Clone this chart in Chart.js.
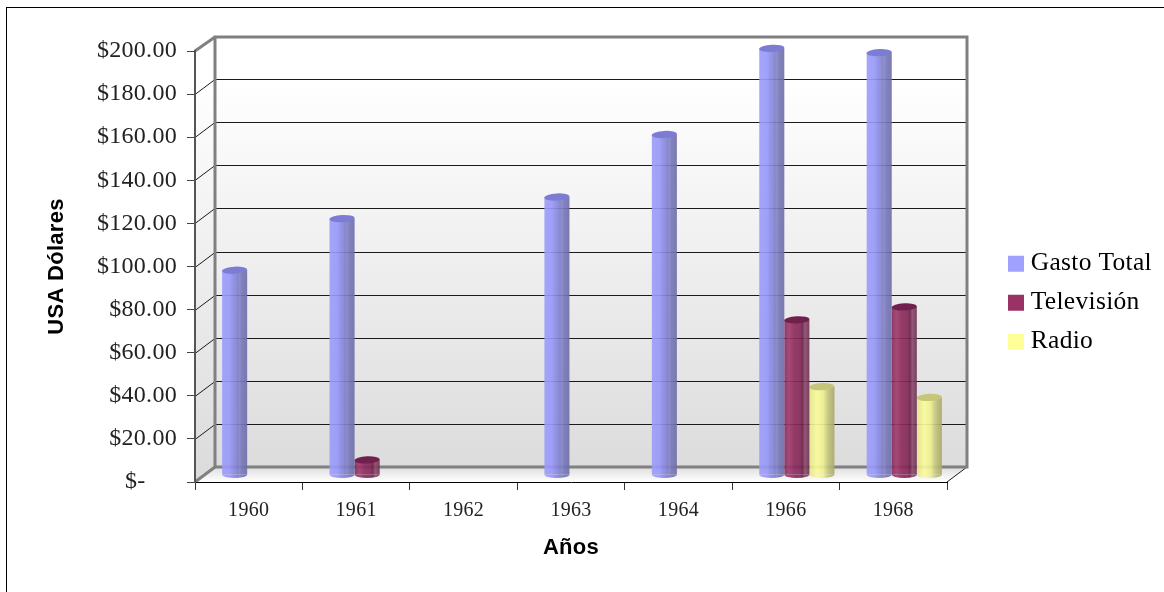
<!DOCTYPE html>
<html lang="es">
<head>
<meta charset="utf-8">
<title>Gasto en publicidad</title>
<style>
  html, body { margin: 0; padding: 0; background: #fff; overflow: hidden; }
  canvas { display: block; }
</style>
<script src="https://cdn.jsdelivr.net/npm/chart.js@4"></script>
</head>
<body>
<canvas id="chart" width="1164" height="592"></canvas>
<script>
// Advertising spend per year, in USD
const years = ['1960', '1961', '1962', '1963', '1964', '1966', '1968'];
const gastoTotal = [95, 119, null, 129, 158, 198, 196];
const television = [null, 7, null, null, null, 72, 78];
const radio = [null, null, null, null, null, 41, 36];
const seriesNames = ['Gasto Total', 'Televisión', 'Radio'];
const legendColors = ['#a0a0ff', '#993366', '#ffff99'];
const yTickLabels = ['$-', '$20.00', '$40.00', '$60.00', '$80.00', '$100.00',
  '$120.00', '$140.00', '$160.00', '$180.00', '$200.00'];

// Horizontal shading of each cylinder, left to right; slightly see-through
const cylinderStops = [
  [[0, '#9c9cf8e8'], [0.3, '#9898fae8'], [0.45, '#8a8ae6e8'], [0.55, '#8686d6e8'], [0.62, '#7c7cc6e8'],
   [0.7, '#8484cce8'], [0.78, '#7676b8e8'], [1, '#6e6eaae8']],
  [[0, '#86285ae8'], [0.18, '#a03a6ce8'], [0.4, '#8a2a5ce8'], [0.62, '#842858e8'], [0.72, '#6c1e46e8'],
   [0.82, '#8a4a6ce8'], [1, '#6e3050e8']],
  [[0, '#e6e68ce8'], [0.3, '#fbfb9ae8'], [0.55, '#f0f090e8'], [0.68, '#d2d284e8'], [0.78, '#c0c07ae8'],
   [1, '#a8a868e8']]
];
const capColors = ['#7c7cd4', '#70204c', '#c6c67a'];

const CATEGORY_FILL = 0.7;
const DEPTH_X = 20;
const DEPTH_Y = 15;
const BAR_SHIFT_X = 11;
const BAR_SHIFT_Y = -7;
const WALL_GRAY = '#808080';

// Gradient across one bar's slot in its category band
function cylinderFill(context) {
  const { chart, datasetIndex, dataIndex } = context;
  if (dataIndex === undefined) return legendColors[datasetIndex];
  const scale = chart.scales.x;
  const band = scale.width / years.length;
  const slot = band * CATEGORY_FILL / seriesNames.length;
  const left = scale.getPixelForValue(dataIndex) - band * CATEGORY_FILL / 2 + slot * datasetIndex;
  const gradient = chart.ctx.createLinearGradient(left, 0, left + slot, 0);
  cylinderStops[datasetIndex].forEach(([at, color]) => gradient.addColorStop(at, color));
  return gradient;
}

// Bars of a series that actually carry a value
function drawnBars(chart, index, meta) {
  const values = chart.data.datasets[index].data;
  return meta.data.filter((bar, i) => values[i] !== null);
}

// Back wall, side wall, floor and their gridlines, behind everything
const chartBox = {
  id: 'chartBox',
  beforeDraw(chart) {
    const { ctx, chartArea: a, scales } = chart;
    const backL = a.left + DEPTH_X, backR = a.right + DEPTH_X;
    const backT = a.top - DEPTH_Y + 1, backB = a.bottom - DEPTH_Y;

    ctx.letterSpacing = '0.3px';
    ctx.save();
    ctx.strokeStyle = '#000';
    ctx.lineWidth = 1;
    ctx.strokeRect(6.5, 7.5, 1300, 700);

    const wallFill = ctx.createLinearGradient(0, backT, 0, backB);
    wallFill.addColorStop(0, '#ffffff');
    wallFill.addColorStop(0.1, '#ffffff');
    wallFill.addColorStop(1, '#dcdcdc');
    ctx.fillStyle = wallFill;
    ctx.fillRect(backL, backT, backR - backL, backB - backT);
    ctx.beginPath();
    ctx.moveTo(a.left, a.top);
    ctx.lineTo(backL, backT);
    ctx.lineTo(backL, backB);
    ctx.lineTo(a.left, a.bottom);
    ctx.closePath();
    ctx.fill();

    const floorFill = ctx.createLinearGradient(0, backB, 0, a.bottom);
    floorFill.addColorStop(0, '#dedede');
    floorFill.addColorStop(1, '#ffffff');
    ctx.fillStyle = floorFill;
    ctx.beginPath();
    ctx.moveTo(a.left, a.bottom);
    ctx.lineTo(backL, backB);
    ctx.lineTo(backR, backB);
    ctx.lineTo(a.right, a.bottom);
    ctx.closePath();
    ctx.fill();

    ctx.strokeStyle = '#1a1a1a';
    ctx.lineWidth = 1;
    scales.y.ticks.forEach((tick) => {
      if (tick.value === 0 || tick.value === 200) return;
      const py = Math.round(scales.y.getPixelForValue(tick.value)) + 0.5;
      ctx.beginPath();
      ctx.moveTo(a.left, py);
      ctx.lineTo(backL, py - DEPTH_Y);
      ctx.lineTo(backR, py - DEPTH_Y);
      ctx.stroke();
    });

    ctx.beginPath();
    ctx.moveTo(a.right, a.bottom);
    ctx.lineTo(backR, backB);
    ctx.stroke();

    ctx.strokeStyle = WALL_GRAY;
    ctx.lineWidth = 3;
    ctx.lineJoin = 'miter';
    ctx.strokeRect(backL, backT, backR - backL, backB - backT);
    ctx.beginPath();
    ctx.moveTo(a.left, a.top);
    ctx.lineTo(backL, backT);
    ctx.moveTo(a.left, a.bottom);
    ctx.lineTo(backL, backB);
    ctx.stroke();
    ctx.restore();
  },
  afterLayout(chart) {
    // Legend sits in the margin right of the walls
    const legend = chart.legend;
    legend.left = 1000.5;
    legend.right = 1164;
    legend.top = 237.5;
    legend.bottom = 400;
  },
  // Bars stand halfway back on the floor
  beforeDatasetsDraw(chart) {
    chart.ctx.save();
    chart.ctx.translate(BAR_SHIFT_X, BAR_SHIFT_Y);
  },
  afterDatasetsDraw(chart) {
    chart.ctx.restore();
  },
  // Rounded foot below the body of the bar
  beforeDatasetDraw(chart, { index, meta }) {
    const ctx = chart.ctx;
    drawnBars(chart, index, meta).forEach((bar) => {
      ctx.save();
      ctx.fillStyle = bar.options.backgroundColor;
      ctx.beginPath();
      ctx.ellipse(bar.x, bar.base, bar.width / 2, 3.5, 0, 0, Math.PI);
      ctx.fill();
      ctx.restore();
    });
  },
  // Lid on top of the body
  afterDatasetDraw(chart, { index, meta }) {
    const ctx = chart.ctx;
    drawnBars(chart, index, meta).forEach((bar) => {
      ctx.save();
      ctx.fillStyle = capColors[index];
      ctx.beginPath();
      ctx.ellipse(bar.x, bar.y, bar.width / 2, 3.6, -0.05, 0, Math.PI * 2);
      ctx.fill();
      ctx.restore();
    });
  }
};

function seriesDataset(label, data) {
  return {
    label,
    data,
    backgroundColor: cylinderFill,
    borderWidth: 0,
    categoryPercentage: CATEGORY_FILL,
    barPercentage: 1,
    clip: false
  };
}

new Chart(document.getElementById('chart'), {
  type: 'bar',
  data: {
    labels: years,
    datasets: [
      seriesDataset(seriesNames[0], gastoTotal),
      seriesDataset(seriesNames[1], television),
      seriesDataset(seriesNames[2], radio)
    ]
  },
  plugins: [chartBox],
  options: {
    responsive: false,
    animation: false,
    layout: { padding: { left: 0, top: 51, right: 217, bottom: 0 } },
    plugins: {
      tooltip: { enabled: false },
      title: { display: false },
      legend: {
        position: 'chartArea',
        align: 'start',
        labels: {
          usePointStyle: true,
          boxWidth: 4,
          boxHeight: 16,
          padding: 13.5,
          color: '#000',
          font: { family: '"Liberation Serif", serif', size: 25.5 },
          generateLabels: () => seriesNames.map((text, i) => ({
            text,
            datasetIndex: i,
            fillStyle: legendColors[i],
            strokeStyle: legendColors[i],
            lineWidth: 0,
            pointStyle: 'rect',
            fontColor: '#000'
          }))
        }
      }
    },
    scales: {
      x: {
        offset: true,
        afterFit(scale) { scale.height = 110; },
        grid: { drawOnChartArea: false, offset: true, tickLength: 8, color: '#333', lineWidth: 1 },
        border: { color: '#000', width: 1 },
        ticks: {
          color: '#222',
          padding: 9,
          maxRotation: 0,
          font: { family: '"Liberation Serif", serif', size: 20 }
        },
        title: {
          display: true,
          text: 'Años',
          color: '#000',
          padding: { top: 0, bottom: 31 },
          font: { family: '"Liberation Sans", sans-serif', size: 22, weight: 'bold' }
        }
      },
      y: {
        min: 0,
        max: 200,
        afterFit(scale) { scale.width = 195; },
        grid: { drawOnChartArea: false, tickLength: 8, color: '#444', lineWidth: 1 },
        border: { color: '#555', width: 2 },
        ticks: {
          stepSize: 20,
          color: '#222',
          padding: 10,
          font: { family: '"Liberation Serif", serif', size: 24 },
          callback: (value, i) => yTickLabels[i] + (value === 0 ? '\u00a0\u00a0\u00a0\u00a0\u00a0' : '')
        },
        title: {
          display: true,
          text: 'USA Dólares',
          color: '#000',
          padding: { top: 44, bottom: 0 },
          font: { family: '"Liberation Sans", sans-serif', size: 22, weight: 'bold' }
        }
      }
    }
  }
});
</script>
</body>
</html>
